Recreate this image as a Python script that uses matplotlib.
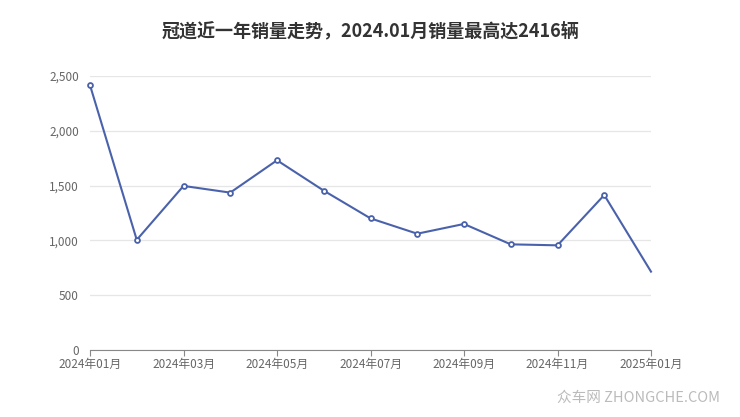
import matplotlib.pyplot as plt
from matplotlib.ticker import FuncFormatter

plt.rcParams['font.family'] = ['Noto Sans CJK SC', 'DejaVu Sans']

months = ['2024年01月', '2024年02月', '2024年03月', '2024年04月', '2024年05月',
          '2024年06月', '2024年07月', '2024年08月', '2024年09月', '2024年10月',
          '2024年11月', '2024年12月', '2025年01月']
sales = [2416, 1005, 1497, 1436, 1731, 1454, 1201, 1061, 1150, 964, 955, 1414, 715]
yticks = [0, 500, 1000, 1500, 2000, 2500]
title = '冠道近一年销量走势，2024.01月销量最高达2416辆'

fig = plt.figure(figsize=(7.4, 4.17), dpi=100)
ax = fig.add_axes([90 / 740, 67 / 417, 561 / 740, 274 / 417])

x = list(range(len(months)))
ax.plot(x, sales, color='#4a62ab', linewidth=1.5, marker='o', markersize=3.5,
        markerfacecolor='white', markeredgewidth=1.3, markevery=list(range(len(months) - 1)),
        clip_on=False, zorder=3)

ax.set_xlim(0, len(months) - 1)
ax.set_ylim(0, 2500)
ax.set_yticks(yticks)
ax.yaxis.set_major_formatter(FuncFormatter(lambda v, p: f'{int(v):,}'))
ax.set_xticks(x[::2])
ax.set_xticklabels(months[::2])

ax.grid(axis='y', color='#e6e6e6', linewidth=0.9)
ax.set_axisbelow(True)
for s in ['top', 'right', 'left']:
    ax.spines[s].set_visible(False)
ax.spines['bottom'].set_color('#888888')
ax.tick_params(axis='y', length=0, labelsize=8.5, labelcolor='#666666', pad=8)
ax.tick_params(axis='x', length=4, color='#888888', labelsize=8.5, labelcolor='#666666', pad=2)

fig.text(0.5, 1 - 31 / 417, title, ha='center', va='center', fontsize=13,
         fontweight='bold', color='#333333')
fig.text(720 / 740, 1 - 398 / 417, '众车网 ZHONGCHE.COM', ha='right', va='center',
         fontsize=10.5, color='#bbbbbb')

fig.savefig('out.png', dpi=100)
